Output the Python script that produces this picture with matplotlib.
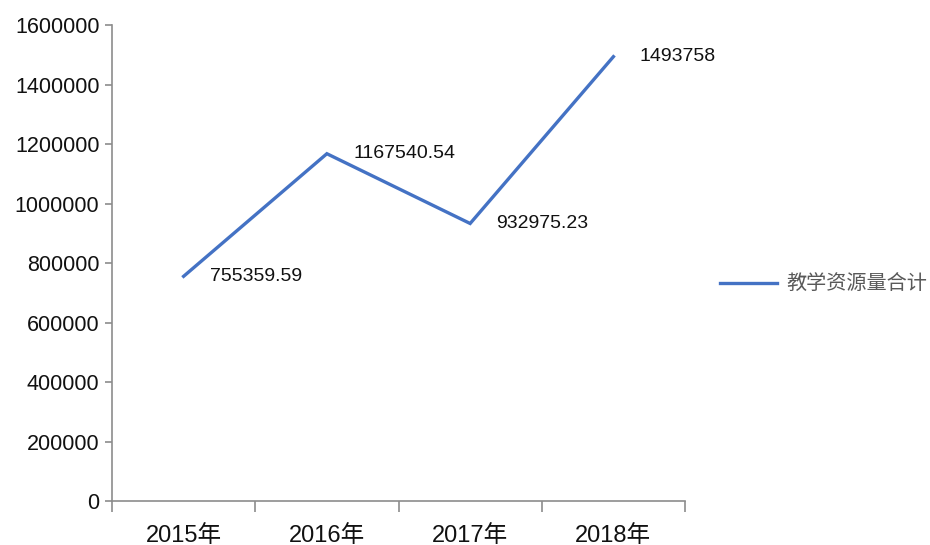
import matplotlib
matplotlib.use("Agg")
import matplotlib.pyplot as plt
from matplotlib.ticker import FixedLocator

plt.rcParams['font.family'] = ['Liberation Sans', 'Noto Sans CJK SC']

# data
years = ['2015年', '2016年', '2017年', '2018年']
totals = [755359.59, 1167540.54, 932975.23, 1493758]
value_labels = ['755359.59', '1167540.54', '932975.23', '1493758']
series_name = '教学资源量合计'
y_ticks = [0, 200000, 400000, 600000, 800000, 1000000, 1200000, 1400000, 1600000]

fig = plt.figure(figsize=(9.3, 5.45), dpi=100)
ax = fig.add_axes([0.1204, 0.0807, 0.6162, 0.8733])

x = list(range(len(years)))
ax.plot(x, totals, color='#4472C4', linewidth=2.4, label=series_name,
        solid_joinstyle='miter')

for xi, v, lab in zip(x, totals, value_labels):
    ax.annotate(lab, (xi, v), xytext=(19, 0), textcoords='offset points',
                ha='left', va='center', fontsize=14, color='#111111')

ax.set_yticks(y_ticks)
ax.set_yticklabels([str(t) for t in y_ticks])
ax.set_ylim(0, 1600000)

ax.set_xticks(x)
ax.set_xticklabels(years, fontsize=17, color='#111111')
ax.set_xlim(-0.5, 3.5)
ax.xaxis.set_minor_locator(FixedLocator([-0.5, 0.5, 1.5, 2.5, 3.5]))
ax.tick_params(axis='x', which='major', length=0, pad=17)
ax.tick_params(axis='x', which='minor', length=8, width=1.2, color='#8c8c8c')
ax.tick_params(axis='y', length=5, width=1.2, color='#8c8c8c', labelsize=15.5,
               labelcolor='#111111', pad=4)

for s in ['top', 'right']:
    ax.spines[s].set_visible(False)
for s in ['left', 'bottom']:
    ax.spines[s].set_color('#8c8c8c')
    ax.spines[s].set_linewidth(1.2)

leg = ax.legend(loc='center left', bbox_to_anchor=(1.03, 0.455), frameon=False,
                handlelength=2.8, handletextpad=0.45,
                prop={'family': ['Noto Sans CJK SC'], 'size': 14.5})
for t in leg.get_texts():
    t.set_color('#595959')

fig.savefig('out.png', dpi=100)
